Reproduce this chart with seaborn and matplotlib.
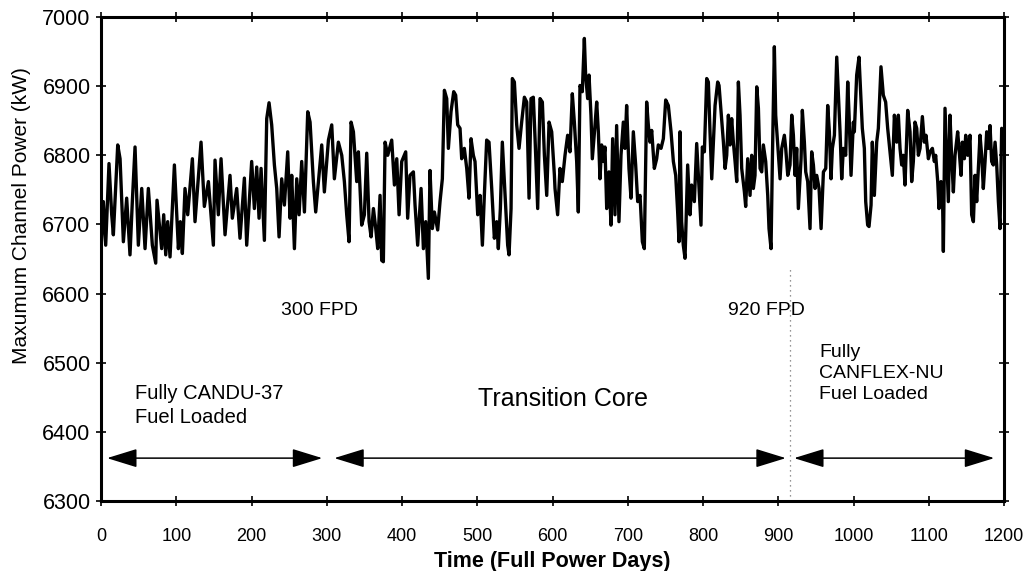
import matplotlib
matplotlib.use("Agg")
import matplotlib.pyplot as plt
import seaborn as sns
import pandas as pd

# ---- data (days, kW) ----
days_candu = [0.0, 3.1, 6.2, 10.6, 14.2, 16.4, 22.2, 25.3, 29.7, 34.1,
              38.5, 41.6, 45.2, 49.6, 54.1, 58.5, 62.9, 68.2, 72.7, 74.4,
              80.6, 83.3, 86.0, 88.6, 91.7, 97.5, 102.8, 105.4, 108.1, 111.6,
              115.2, 121.4, 124.9, 132.9, 137.3, 142.7, 149.3, 151.5, 155.9, 159.5,
              164.8, 171.4, 174.5, 180.3, 184.7, 190.5, 193.6, 200.2, 203.8]
power_candu = [6665, 6733, 6670, 6788, 6714, 6685, 6815, 6795, 6675, 6738,
               6656, 6733, 6812, 6670, 6752, 6665, 6752, 6670, 6644, 6735,
               6665, 6714, 6656, 6704, 6653, 6786, 6665, 6704, 6658, 6752,
               6714, 6795, 6704, 6819, 6726, 6762, 6670, 6793, 6714, 6795,
               6685, 6771, 6709, 6752, 6680, 6767, 6670, 6791, 6723]

days_b = [206.9, 210.0, 212.7, 217.1, 220.2, 223.3, 226.8, 230.4, 233.5, 236.6,
          240.1, 243.7, 248.1, 251.2, 253.4, 257.0, 260.1, 263.2, 266.7, 270.3,
          274.7, 277.8, 282.2, 285.3, 288.9, 293.3, 296.8, 302.2, 306.6, 310.1,
          315.4, 319.9, 323.4, 326.5, 329.6, 332.3, 335.4, 339.8, 342.0, 346.4,
          350.0, 353.1, 356.2, 358.9, 362.0, 365.1, 367.7, 370.8, 373.0, 375.2,
          377.5, 381.0, 386.3, 389.9, 393.0, 396.1, 399.6]
power_b = [6783, 6709, 6781, 6677, 6853, 6876, 6844, 6786, 6752, 6682,
           6766, 6728, 6805, 6709, 6771, 6665, 6766, 6714, 6791, 6718,
           6863, 6848, 6762, 6718, 6762, 6815, 6747, 6822, 6844, 6766,
           6819, 6800, 6762, 6714, 6675, 6848, 6834, 6762, 6805, 6699,
           6714, 6803, 6704, 6682, 6723, 6694, 6665, 6742, 6648, 6646,
           6819, 6800, 6822, 6757, 6795, 6714, 6791]

days_c = [404.9, 407.5, 410.6, 415.1, 417.3, 420.8, 425.3, 428.4, 431.5, 435.0,
          437.2, 440.3, 443.0, 447.4, 450.5, 453.6, 456.3, 459.4, 461.6, 465.1,
          468.7, 471.3, 474.0, 477.1, 479.3, 482.8, 486.0, 489.0, 491.7, 494.8,
          497.0, 500.6, 503.7, 506.8, 509.4, 512.5, 515.6, 519.2, 522.7, 525.8,
          528.0, 530.7, 533.3, 536.9, 540.4, 542.2, 544.9, 546.6, 549.3, 552.4,
          555.5, 559.0, 562.6, 565.7, 568.8, 571.4, 574.5, 576.8, 580.3, 583.4,
          586.5, 589.2, 592.3, 595.4, 598.9, 602.5]
power_c = [6805, 6709, 6771, 6776, 6728, 6670, 6752, 6665, 6704, 6622,
           6778, 6694, 6718, 6692, 6733, 6766, 6894, 6882, 6810, 6863,
           6892, 6887, 6844, 6839, 6795, 6810, 6781, 6738, 6824, 6800,
           6791, 6714, 6742, 6670, 6742, 6822, 6819, 6752, 6680, 6704,
           6665, 6723, 6819, 6742, 6670, 6656, 6723, 6911, 6906, 6844,
           6810, 6848, 6884, 6877, 6738, 6882, 6884, 6824, 6723, 6882,
           6877, 6800, 6742, 6848, 6834, 6771]

days_d = [603.3, 606.8, 609.9, 613.0, 616.6, 620.1, 623.2, 626.3, 629.0, 632.1,
          634.3, 636.5, 639.6, 642.3, 644.0, 646.7, 648.5, 651.1, 652.9, 656.5,
          658.7, 660.9, 663.1, 665.3, 667.5, 669.7, 672.0, 675.0, 677.7, 679.9,
          683.0, 685.2, 688.3, 691.0, 694.1, 696.3, 698.5, 701.6, 704.3, 707.4,
          710.5, 713.2, 716.3, 719.4, 722.0, 725.1, 727.3, 729.5, 731.8, 735.3,
          738.4, 740.6, 744.2, 747.3, 750.4, 753.9, 757.5, 760.6, 763.7, 766.3,
          768.1, 769.4, 771.6, 773.8, 776.1, 779.6, 782.7, 784.9, 788.5, 791.6,
          794.7, 797.3, 799.1, 801.8]
power_d = [6752, 6714, 6781, 6762, 6800, 6829, 6805, 6889, 6848, 6791,
           6718, 6901, 6892, 6969, 6916, 6882, 6916, 6858, 6795, 6844,
           6877, 6834, 6766, 6815, 6791, 6812, 6723, 6776, 6699, 6824,
           6714, 6843, 6704, 6800, 6848, 6810, 6872, 6781, 6738, 6834,
           6786, 6733, 6742, 6675, 6665, 6877, 6844, 6819, 6836, 6781,
           6795, 6815, 6810, 6824, 6880, 6872, 6834, 6791, 6771, 6718,
           6675, 6834, 6704, 6670, 6651, 6786, 6714, 6757, 6733, 6817,
           6752, 6699, 6812, 6805]

days_e = [804.9, 807.1, 809.3, 811.6, 813.8, 816.0, 819.5, 821.3, 824.0, 827.1,
          829.3, 831.5, 833.7, 835.9, 838.1, 840.3, 842.6, 844.8, 847.0, 849.2,
          851.4, 855.0, 856.7, 859.4, 862.5, 864.7, 866.9, 869.1, 871.4, 873.6,
          875.8, 878.0, 880.2, 883.3, 886.0, 887.7, 890.4, 892.2, 894.8, 896.6,
          899.3, 902.4, 904.6, 908.1, 909.9, 912.6, 915.6, 917.9, 920.1, 922.3,
          924.5, 926.7, 930.3, 932.0, 934.7, 936.5, 939.1, 942.2, 944.4, 946.7,
          948.9, 951.1, 954.2, 956.9, 960.0, 963.1, 965.7, 967.9, 970.1, 971.9,
          974.6, 977.7, 979.9, 982.1, 984.3, 986.5, 989.6, 992.3, 994.1, 996.7,
          999.8]
power_e = [6911, 6906, 6834, 6766, 6819, 6872, 6906, 6901, 6863, 6819,
           6781, 6800, 6858, 6815, 6853, 6819, 6791, 6762, 6906, 6858,
           6781, 6747, 6726, 6795, 6742, 6800, 6752, 6771, 6899, 6868,
           6781, 6776, 6815, 6791, 6742, 6694, 6665, 6795, 6957, 6858,
           6815, 6766, 6810, 6829, 6810, 6771, 6786, 6858, 6829, 6771,
           6810, 6723, 6795, 6865, 6819, 6776, 6762, 6694, 6805, 6786,
           6752, 6771, 6752, 6694, 6776, 6781, 6872, 6834, 6766, 6810,
           6829, 6942, 6887, 6834, 6766, 6810, 6800, 6906, 6858, 6771,
           6848]

days_f = [1001.1, 1004.2, 1007.3, 1010.0, 1011.7, 1014.4, 1016.2, 1018.8, 1020.6, 1023.3,
          1025.0, 1027.7, 1030.8, 1033.0, 1036.5, 1039.6, 1042.7, 1045.4, 1048.5, 1051.6,
          1054.3, 1057.4, 1059.6, 1061.8, 1064.0, 1066.2, 1068.4, 1072.0, 1075.1, 1077.3,
          1079.5, 1081.7, 1084.0, 1086.2, 1088.4, 1091.5, 1094.1, 1096.3, 1099.5, 1101.7,
          1104.8, 1107.4, 1109.2, 1111.9, 1113.6, 1116.3, 1118.1, 1119.4, 1121.6, 1123.8,
          1126.0, 1128.2, 1130.5, 1132.7, 1134.9, 1138.4, 1140.2, 1142.9, 1144.6, 1147.3,
          1149.1, 1151.7, 1154.8, 1157.0, 1159.3, 1161.5, 1163.7, 1165.9, 1168.1, 1170.3,
          1172.5, 1174.8, 1177.0, 1179.2, 1181.4, 1183.6, 1185.8, 1188.1, 1190.3, 1192.5,
          1194.7, 1196.9, 1199.1]
power_f = [6834, 6916, 6942, 6877, 6839, 6810, 6733, 6699, 6697, 6728,
           6819, 6742, 6819, 6839, 6928, 6887, 6877, 6839, 6805, 6771,
           6858, 6819, 6858, 6810, 6786, 6800, 6757, 6865, 6834, 6762,
           6791, 6848, 6839, 6800, 6810, 6856, 6819, 6829, 6795, 6805,
           6810, 6791, 6800, 6762, 6723, 6762, 6752, 6661, 6868, 6800,
           6733, 6858, 6795, 6747, 6800, 6834, 6810, 6771, 6819, 6795,
           6829, 6800, 6829, 6714, 6704, 6771, 6733, 6781, 6829, 6800,
           6752, 6791, 6834, 6810, 6843, 6791, 6786, 6819, 6786, 6733,
           6694, 6839, 6810]

x_ticks = [0, 100, 200, 300, 400, 500, 600, 700, 800, 900, 1000, 1100, 1200]
y_ticks = [6300, 6400, 6500, 6600, 6700, 6800, 6900, 7000]

# annotation content
boundary_day = 915
arrow_y = 6362
arrow_spans = [(8, 294), (310, 910), (921, 1187)]

days = days_candu + days_b + days_c + days_d + days_e + days_f
power = power_candu + power_b + power_c + power_d + power_e + power_f
df = pd.DataFrame({"day": days, "power": power})

sns.set_theme(style="white")
plt.rcParams["font.family"] = ["Liberation Sans", "DejaVu Sans"]
plt.rcParams["text.color"] = "black"
plt.rcParams["axes.labelcolor"] = "black"
plt.rcParams["xtick.color"] = "black"
plt.rcParams["ytick.color"] = "black"

fig = plt.figure(figsize=(10.34, 5.71), dpi=100)
ax = fig.add_axes([0.0977, 0.1226, 0.8733, 0.8476])

sns.lineplot(data=df, x="day", y="power", color="black", linewidth=2.4,
             estimator=None, sort=False, ax=ax)

ax.set_xlim(0, 1200)
ax.set_ylim(6300, 7000)
ax.set_xticks(x_ticks)
ax.set_yticks(y_ticks)
ax.set_xticklabels([str(t) for t in x_ticks])
ax.set_yticklabels([str(t) for t in y_ticks])

for s in ax.spines.values():
    s.set_linewidth(2.2)
    s.set_color("black")
    s.set_visible(True)

ax.tick_params(axis="both", direction="inout", length=7, width=1.2,
               colors="black", labelcolor="black",
               left=True, right=True, bottom=True, top=True)
ax.tick_params(axis="x", labelsize=13, pad=16)
ax.tick_params(axis="y", labelsize=15.5, pad=4)

ax.set_xlabel("Time (Full Power Days)", fontsize=15.5, fontweight="bold",
              color="black")
ax.set_ylabel("Maxumum Channel Power (kW)", fontsize=15, color="black")
ax.xaxis.set_label_coords(0.5, -0.103)
ax.yaxis.set_label_coords(-0.077, 0.59)

# boundary at ~920 FPD
ax.plot([boundary_day, boundary_day], [6300, 6640], linestyle=(0, (1, 3)),
        color="0.45", linewidth=0.9)

# arrows
for a, b in arrow_spans:
    ax.annotate("", xy=(b, arrow_y), xytext=(a, arrow_y),
                arrowprops=dict(arrowstyle="<|-|>,head_length=0.94,head_width=0.29",
                                mutation_scale=20, lw=1.1, color="black",
                                shrinkA=0, shrinkB=0))

ax.text(290, 6575, "300 FPD", fontsize=14, ha="center", va="center", color="black")
ax.text(884, 6575, "920 FPD", fontsize=14, ha="center", va="center", color="black")
ax.text(45, 6438, "Fully CANDU-37\nFuel Loaded", fontsize=14.5, ha="left",
        va="center", linespacing=1.3, color="black")
ax.text(614, 6447, "Transition Core", fontsize=18, ha="center", va="center",
        color="black")
ax.text(954, 6484, "Fully\nCANFLEX-NU\nFuel Loaded", fontsize=14, ha="left",
        va="center", linespacing=1.3, color="black")

fig.savefig("out.png", dpi=100)
